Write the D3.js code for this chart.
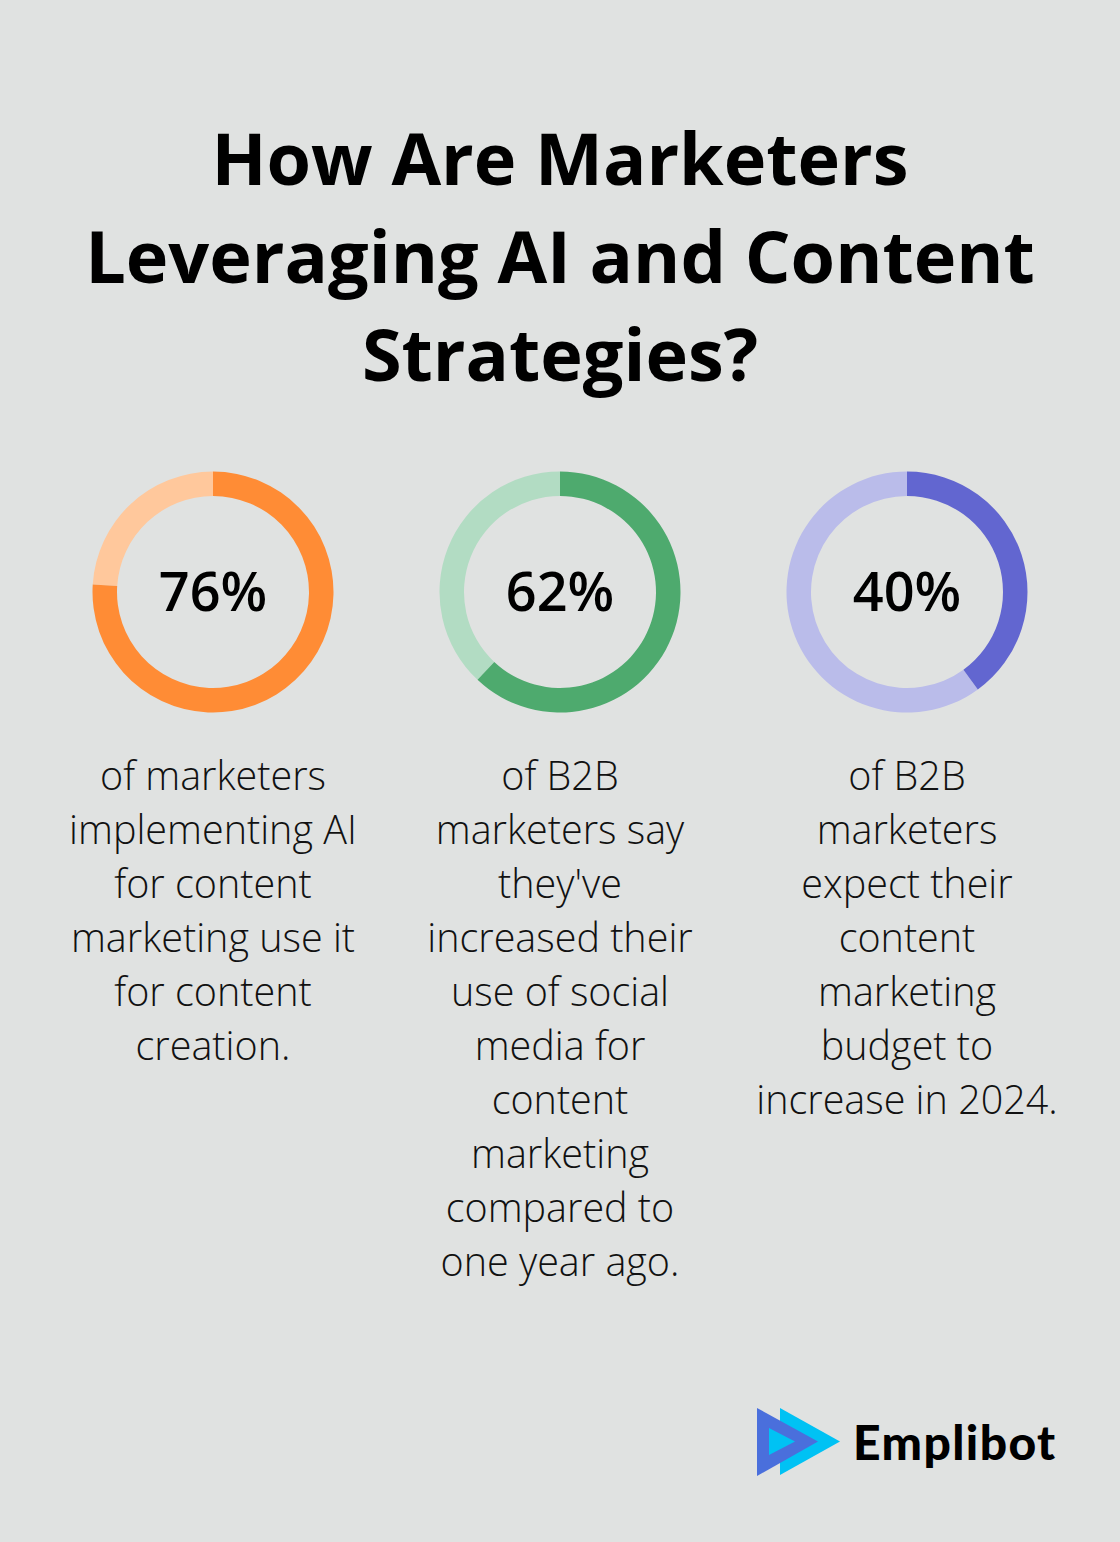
<!DOCTYPE html>
<html><head><meta charset="utf-8">
<script src="https://cdn.jsdelivr.net/npm/d3@7"></script>
<style>
html,body{margin:0;padding:0;background:#e0e2e1;}
svg{display:block;}
</style></head>
<body>
<svg id="chart" width="1120" height="1542"></svg>
<script>
const titleLines = ["How Are Marketers", "Leveraging AI and Content", "Strategies?"];
const values = [76, 62, 40];
const labels = ["76%", "62%", "40%"];
const descriptions = [
  ["of marketers", "implementing AI", "for content", "marketing use it", "for content", "creation."],
  ["of B2B", "marketers say", "they've", "increased their", "use of social", "media for", "content", "marketing", "compared to", "one year ago."],
  ["of B2B", "marketers", "expect their", "content", "marketing", "budget to", "increase in 2024."]
];
const mainColors = ["#ff8c35", "#4eaa6e", "#6266d0"];
const lightColors = ["#ffc89c", "#b2dcc3", "#babcea"];
const brand = "Emplibot";

const svg = d3.select("#chart");
svg.append("rect").attr("width",1120).attr("height",1542).attr("fill","#e0e2e1");

svg.append("g").selectAll("text").data(titleLines).join("text")
  .attr("x",560).attr("y",(d,i)=>185+i*98)
  .attr("text-anchor","middle")
  .attr("font-family","'Open Sans', sans-serif").attr("font-weight",700)
  .attr("font-size",72).attr("fill","#000")
  .text(d=>d);

const x = d3.scalePoint().domain(d3.range(values.length)).range([213,907]);
const pct = d3.scaleLinear().domain([0,100]).range([0,2*Math.PI]);
const arc = d3.arc().innerRadius(96).outerRadius(120.5);

const g = svg.append("g").selectAll("g").data(values).join("g")
  .attr("transform",(d,i)=>`translate(${x(i)},592)`);

g.append("path").attr("d",d=>arc({startAngle:pct(d),endAngle:2*Math.PI}))
  .attr("fill",(d,i)=>lightColors[i]);
g.append("path").attr("d",d=>arc({startAngle:0,endAngle:pct(d)}))
  .attr("fill",(d,i)=>mainColors[i]);
g.append("text").attr("y",0).attr("dy","0.35em")
  .attr("text-anchor","middle")
  .attr("font-family","'Open Sans', sans-serif").attr("font-weight",600)
  .attr("font-size",54).attr("fill","#000")
  .text((d,i)=>labels[i]);

const desc = svg.append("g").selectAll("text").data(descriptions).join("text")
  .attr("text-anchor","middle")
  .attr("font-family","'Open Sans', sans-serif").attr("font-weight",300)
  .attr("font-size",39.5).attr("fill","#111");
desc.selectAll("tspan").data((d,i)=>d.map(l=>({l,i}))).join("tspan")
  .attr("x",d=>x(d.i)).attr("y",(d,j)=>790+j*54).text(d=>d.l);

// logo
const logo = svg.append("g");
logo.append("path").attr("d","M780,1408 L840,1441.5 L780,1475 Z").attr("fill","#00c2f4");
logo.append("path").attr("d","M757,1408 L818,1441.5 L757,1476 Z").attr("fill","#4a6fdc");
logo.append("path").attr("d","M769,1428 L795,1441.5 L769,1455 Z").attr("fill","#00c2f4");
logo.append("text").attr("x",853).attr("y",1460)
  .attr("font-family","Lato, sans-serif").attr("font-weight",900)
  .attr("font-size",48).attr("fill","#000").attr("letter-spacing",1.4)
  .text(brand);
</script>
</body></html>
